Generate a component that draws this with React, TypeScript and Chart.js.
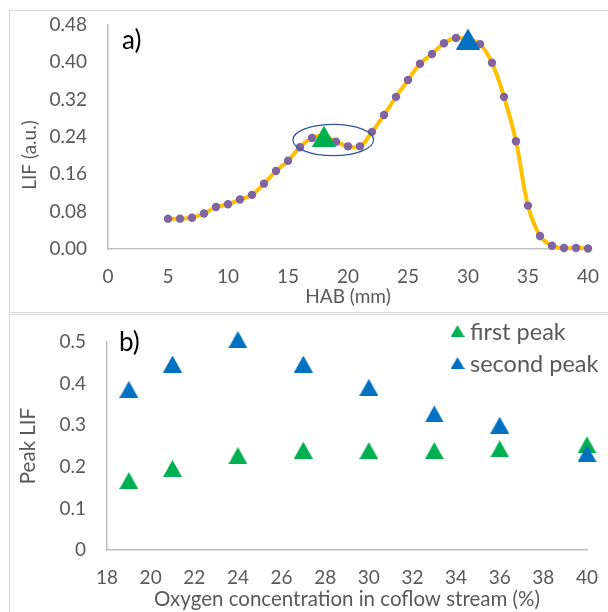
import React, { useEffect, useRef } from "react";
import { Chart, registerables } from "chart.js";
Chart.register(...registerables);

// ---------- Panel a) data ----------
const habMm = [5, 6, 7, 8, 9, 10, 11, 12, 13, 14, 15, 16, 17, 18, 19, 20, 21, 22, 23, 24, 25, 26, 27, 28, 29, 30, 31, 32, 33, 34, 35, 36, 37, 38, 39, 40];
const lifValues = [0.065, 0.065, 0.067, 0.076, 0.09, 0.096, 0.106, 0.116, 0.14, 0.167, 0.189, 0.218, 0.238, 0.242, 0.23, 0.22, 0.22, 0.251, 0.287, 0.326, 0.362, 0.397, 0.418, 0.441, 0.452, 0.449, 0.439, 0.399, 0.326, 0.231, 0.093, 0.028, 0.007, 0.002, 0.002, 0.001];
const firstPeakHab = [18];
const firstPeakLifA = [0.242];
const secondPeakHab = [30];
const secondPeakLifA = [0.45];
const ellipseCenter = [18.77, 0.2336];
const ellipseRadii = [3.36, 0.0336];
const topXTicks = [0, 5, 10, 15, 20, 25, 30, 35, 40];
const topYTicks = [0, 0.08, 0.16, 0.24, 0.32, 0.4, 0.48];

// ---------- Panel b) data ----------
const oxygenPct = [19, 21, 24, 27, 30, 33, 36, 40];
const firstPeakLif = [0.167, 0.196, 0.227, 0.24, 0.239, 0.239, 0.243, 0.253];
const secondPeakLif = [0.386, 0.447, 0.506, 0.447, 0.391, 0.327, 0.3, 0.232];
const bottomXTicks = [18, 20, 22, 24, 26, 28, 30, 32, 34, 36, 38, 40];
const bottomYTicks = [0, 0.1, 0.2, 0.3, 0.4, 0.5];

const GREEN = "#00B050";
const BLUE = "#0070C0";
const TEXT = "#595959";
const AXIS = "#bfbfbf";
const FONT = "Lato";

function triangle(color: string, w: number, h: number): HTMLCanvasElement {
  const c = document.createElement("canvas");
  c.width = Math.ceil(w);
  c.height = Math.ceil(h);
  const ctx = c.getContext("2d")!;
  ctx.fillStyle = color;
  ctx.beginPath();
  ctx.moveTo(c.width / 2, 0);
  ctx.lineTo(c.width, c.height);
  ctx.lineTo(0, c.height);
  ctx.closePath();
  ctx.fill();
  return c;
}

const tickFont = { family: FONT, size: 19 };
const titleFontB = { family: FONT, size: 20.5 };

function ticksFrom(list: number[]) {
  return (scale: any) => {
    scale.ticks = list.map((v) => ({ value: v }));
  };
}

function fixSize(prop: "width" | "height", size: number) {
  return (s: any) => {
    s[prop] = size;
    s.paddingTop = 0;
    s.paddingBottom = 0;
    s.paddingLeft = 0;
    s.paddingRight = 0;
  };
}

const panelLabel = (text: string, dx: number, dy: number) => ({
  id: "panelLabel" + text,
  afterDraw(chart: any) {
    const { ctx, chartArea } = chart;
    ctx.save();
    ctx.font = `26px ${FONT}`;
    ctx.fillStyle = "#000";
    ctx.textBaseline = "middle";
    ctx.textAlign = "left";
    ctx.fillText(text, chartArea.left + dx, chartArea.top + dy);
    ctx.restore();
  },
});

const topYTitle = {
  id: "topYTitle",
  afterDraw(chart: any) {
    const { ctx, chartArea } = chart;
    ctx.save();
    ctx.font = `19px ${FONT}`;
    ctx.fillStyle = TEXT;
    ctx.textBaseline = "middle";
    ctx.textAlign = "center";
    ctx.translate(30, (chartArea.top + chartArea.bottom) / 2 + 18);
    ctx.rotate(-Math.PI / 2);
    ctx.fillText("LIF (a.u.)", 0, 0);
    ctx.restore();
  },
};

const ellipsePlugin = {
  id: "ellipse",
  afterDatasetsDraw(chart: any) {
    const { ctx, scales } = chart;
    const x = scales.x;
    const y = scales.y;
    const cx = x.getPixelForValue(ellipseCenter[0]);
    const cy = y.getPixelForValue(ellipseCenter[1]);
    const rx = Math.abs(x.getPixelForValue(ellipseCenter[0] + ellipseRadii[0]) - cx);
    const ry = Math.abs(y.getPixelForValue(ellipseCenter[1] + ellipseRadii[1]) - cy);
    ctx.save();
    ctx.strokeStyle = "#2F5597";
    ctx.lineWidth = 1.2;
    ctx.beginPath();
    ctx.ellipse(cx, cy, rx, ry, 0, 0, Math.PI * 2);
    ctx.stroke();
    ctx.restore();
  },
};

const legendPlugin = {
  id: "customLegend",
  afterDraw(chart: any) {
    const { ctx, chartArea } = chart;
    ctx.save();
    ctx.font = `23.5px ${FONT}`;
    ctx.fillStyle = TEXT;
    ctx.textBaseline = "middle";
    ctx.textAlign = "left";
    chart.data.datasets.forEach((ds: any, i: number) => {
      const yy = chartArea.top - 11 + i * 32;
      const xx = chartArea.right - 129.5;
      const img = triangle(ds.backgroundColor, 13.5, 12);
      ctx.drawImage(img, xx - img.width / 2, yy - img.height / 2);
      ctx.fillText(ds.label, xx + 12.5, yy + 1);
    });
    ctx.restore();
  },
};

function axisBase() {
  return {
    type: "linear" as const,
    grid: { display: false, drawTicks: false },
    border: { display: true, color: AXIS, width: 1.5 },
  };
}

export default function App() {
  const topRef = useRef<HTMLCanvasElement>(null);
  const botRef = useRef<HTMLCanvasElement>(null);

  useEffect(() => {
    const bigGreen = triangle(GREEN, 24, 21);
    const bigBlue = triangle(BLUE, 24, 21);
    const smallGreen = triangle(GREEN, 18.5, 17);
    const smallBlue = triangle(BLUE, 18.5, 17);

    const top = new Chart(topRef.current!, {
      type: "line",
      data: {
        datasets: [
          {
            label: "first",
            type: "scatter",
            data: firstPeakHab.map((x, i) => ({ x, y: firstPeakLifA[i] })),
            pointStyle: bigGreen as any,
            backgroundColor: GREEN,
            order: 0,
            clip: false as any,
          },
          {
            label: "second",
            type: "scatter",
            data: secondPeakHab.map((x, i) => ({ x, y: secondPeakLifA[i] })),
            pointStyle: bigBlue as any,
            backgroundColor: BLUE,
            order: 0,
            clip: false as any,
          },
          {
            label: "LIF",
            data: habMm.map((x, i) => ({ x, y: lifValues[i] })),
            borderColor: "#FFC000",
            borderWidth: 4,
            tension: 0.4,
            pointRadius: 4.2,
            pointBackgroundColor: "#8064A2",
            pointBorderWidth: 0,
            order: 1,
            clip: false as any,
          },
        ],
      },
      options: {
        animation: false,
        responsive: false,
        layout: { autoPadding: false, padding: { top: 25, right: 20, left: 0, bottom: 0 } },
        plugins: { legend: { display: false }, tooltip: { enabled: false } },
        scales: {
          x: {
            ...axisBase(),
            min: 0,
            max: 40,
            afterBuildTicks: ticksFrom(topXTicks),
            ticks: { color: TEXT, font: tickFont, padding: 16, maxRotation: 0, autoSkip: false },
            title: { display: true, text: "HAB (mm)", color: TEXT, font: tickFont, padding: { top: 0, bottom: 4 } },
            afterFit: fixSize("height", 63),
          },
          y: {
            ...axisBase(),
            min: 0,
            max: 0.48,
            afterBuildTicks: ticksFrom(topYTicks),
            ticks: { color: TEXT, font: tickFont, padding: 21, autoSkip: false, callback: (v: any) => Number(v).toFixed(2) },
            afterFit: fixSize("width", 108),
          },
        },
      } as any,
      plugins: [ellipsePlugin, topYTitle, panelLabel("a)", 14, 16)],
    });

    const bot = new Chart(botRef.current!, {
      type: "scatter",
      data: {
        datasets: [
          {
            label: "first peak",
            data: oxygenPct.map((x, i) => ({ x, y: firstPeakLif[i] })),
            pointStyle: smallGreen as any,
            backgroundColor: GREEN,
            order: 2,
            clip: false as any,
          },
          {
            label: "second peak",
            data: oxygenPct.map((x, i) => ({ x, y: secondPeakLif[i] })),
            pointStyle: smallBlue as any,
            backgroundColor: BLUE,
            order: 1,
            clip: false as any,
          },
        ],
      },
      options: {
        animation: false,
        responsive: false,
        layout: { autoPadding: false, padding: { top: 29, right: 21, left: 0, bottom: 0 } },
        plugins: { legend: { display: false }, tooltip: { enabled: false } },
        scales: {
          x: {
            ...axisBase(),
            min: 18,
            max: 40,
            afterBuildTicks: ticksFrom(bottomXTicks),
            ticks: { color: TEXT, font: tickFont, padding: 16, maxRotation: 0, autoSkip: false },
            title: { display: true, text: "Oxygen concentration in coflow stream (%)", color: TEXT, font: titleFontB, padding: { top: 0, bottom: 0 } },
            afterFit: fixSize("height", 62),
          },
          y: {
            ...axisBase(),
            min: 0,
            max: 0.5,
            afterBuildTicks: ticksFrom(bottomYTicks),
            ticks: { color: TEXT, font: tickFont, padding: 21, autoSkip: false, callback: (v: any) => String(Number(Number(v).toFixed(1))) },
            title: { display: true, text: "Peak LIF", color: TEXT, font: titleFontB, padding: { top: 16, bottom: 0 } },
            afterFit: fixSize("width", 107),
          },
        },
      } as any,
      plugins: [legendPlugin, panelLabel("b)", 12, 1)],
    });

    return () => {
      top.destroy();
      bot.destroy();
    };
  }, []);

  return (
    <div style={{ position: "fixed", left: 0, top: 0, width: 608, height: 612, overflow: "hidden", background: "#fff" }}>
      <div style={{ position: "absolute", left: 9, top: 10, width: 700, height: 303, boxSizing: "border-box", border: "1px solid #d9d9d9" }} />
      <div style={{ position: "absolute", left: 9, top: 314, width: 700, height: 400, boxSizing: "border-box", border: "1px solid #d9d9d9" }} />
      <canvas ref={topRef} width={608} height={312} style={{ position: "absolute", left: 0, top: 0, width: 608, height: 312 }} />
      <canvas ref={botRef} width={608} height={299} style={{ position: "absolute", left: 0, top: 313, width: 608, height: 299 }} />
    </div>
  );
}
